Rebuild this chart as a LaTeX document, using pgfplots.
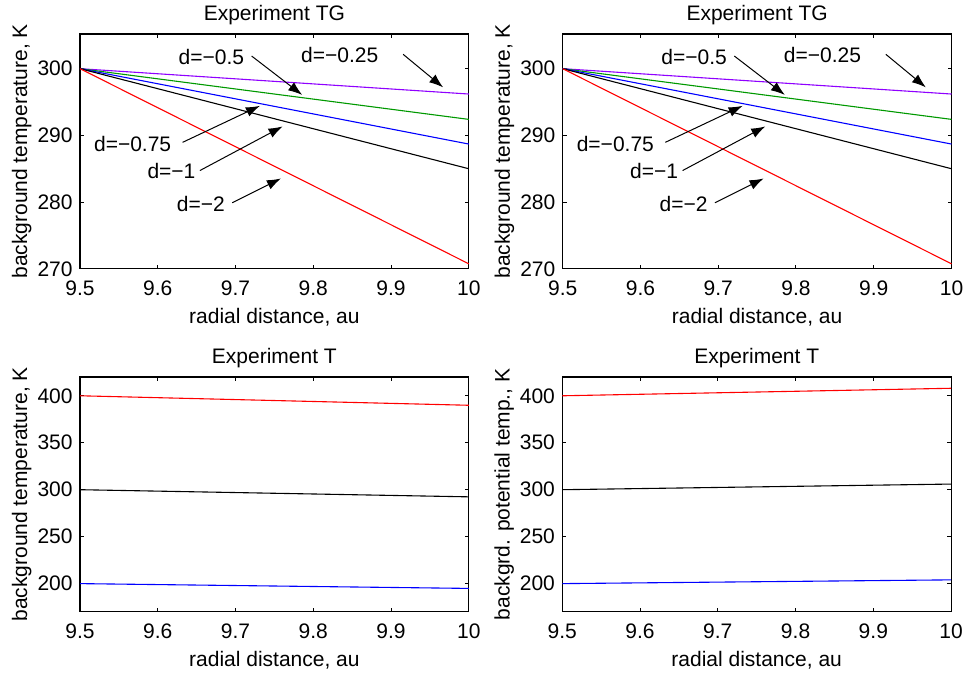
\documentclass[border=0pt]{standalone}
\usepackage{pgfplots}
\pgfplotsset{compat=1.18}
\usepackage{fontspec}
\setmainfont{Liberation Sans}
\usetikzlibrary{arrows.meta}
\definecolor{mviolet}{RGB}{143,0,255}
\definecolor{mgreen}{RGB}{0,153,0}
\tikzset{arr/.style={-{Latex[length=7pt,width=5pt]}, line width=0.5pt, black}}
\pgfplotsset{
  every axis title/.style={at={(0.5,1)}, anchor=base, inner sep=0pt, yshift=6.5pt},
  every axis y label/.style={at={(0,0.5)}, xshift=-24pt, rotate=90, anchor=south, inner sep=0pt},
  every axis x label/.style={at={(0.5,0)}, anchor=base, inner sep=0pt, yshift=-27.5pt},
  every axis/.append style={
    font=\fontsize{10.5}{12}\selectfont,
    /pgf/number format/assume math mode=true,
    scale only axis, width=194.4pt, height=117.4pt,
    anchor=north west,
    axis line style={line width=0.6pt},
    tick align=inside, major tick length=2pt,
    tick style={line width=0.5pt, black},
    xmin=9.5, xmax=10,
    xtick={9.5,9.6,9.7,9.8,9.9,10},
    xticklabels={9.5,9.6,9.7,9.8,9.9,10},
    xticklabel style={anchor=base, inner sep=0pt, yshift=-13.5pt},
    yticklabel style={anchor=east, inner sep=0pt, xshift=-3.5pt},
    xlabel={radial distance, au},
    clip=false,
    every axis plot/.append style={line width=0.55pt},
  },
  tgaxis/.style={
    ymin=270, ymax=305.2, ytick={270,280,290,300},
    title={Experiment TG},
    ylabel={background temperature, K},
  },
  taxis/.style={
    ymin=170, ymax=420, ytick={200,250,300,350,400},
    title={Experiment T},
  },
}
\newcommand{\tgcontent}{%
  \addplot[mviolet] coordinates {(9.5,300) (10,296.2)};
  \addplot[mgreen] coordinates {(9.5,300) (10,292.4)};
  \addplot[blue] coordinates {(9.5,300) (10,288.7)};
  \addplot[black] coordinates {(9.5,300) (10,285.0)};
  \addplot[red] coordinates {(9.5,300) (10,270.75)};
  \node[inner sep=0pt] at (axis cs:9.669,301.8) {d=−0.5};
  \draw[arr] (axis cs:9.7207,301.9) -- (axis cs:9.7857,296.07);
  \node[inner sep=0pt] at (axis cs:9.834,302.0) {d=−0.25};
  \draw[arr] (axis cs:9.9156,302.15) -- (axis cs:9.967,297.2);
  \node[inner sep=0pt] at (axis cs:9.5677,288.76) {d=−0.75};
  \draw[arr] (axis cs:9.632,288.96) -- (axis cs:9.7314,294.43);
  \node[inner sep=0pt] at (axis cs:9.6176,284.63) {d=−1};
  \draw[arr] (axis cs:9.6542,284.73) -- (axis cs:9.7605,291.34);
  \node[inner sep=0pt] at (axis cs:9.6555,279.76) {d=−2};
  \draw[arr] (axis cs:9.6958,279.9) -- (axis cs:9.7584,283.54);
}
\begin{document}
\begin{tikzpicture}
\path[use as bounding box] (0,0) rectangle (484.5pt,-336.5pt);
\begin{axis}[tgaxis, at={(40pt,-17pt)}]
\tgcontent
\end{axis}
\begin{axis}[tgaxis, at={(281.35pt,-17pt)}]
\tgcontent
\end{axis}
\begin{axis}[taxis, at={(40pt,-188.5pt)}, ylabel={background temperature, K}]
  \addplot[red] coordinates {(9.5,400) (10,389.9)};
  \addplot[black] coordinates {(9.5,300) (10,292.4)};
  \addplot[blue] coordinates {(9.5,200) (10,194.9)};
\end{axis}
\begin{axis}[taxis, at={(281.15pt,-188.5pt)}, ylabel={backgrd. potential temp., K}]
  \addplot[red] coordinates {(9.5,400) (10,408)};
  \addplot[black] coordinates {(9.5,300) (10,306)};
  \addplot[blue] coordinates {(9.5,200) (10,204)};
\end{axis}
\end{tikzpicture}
\end{document}
